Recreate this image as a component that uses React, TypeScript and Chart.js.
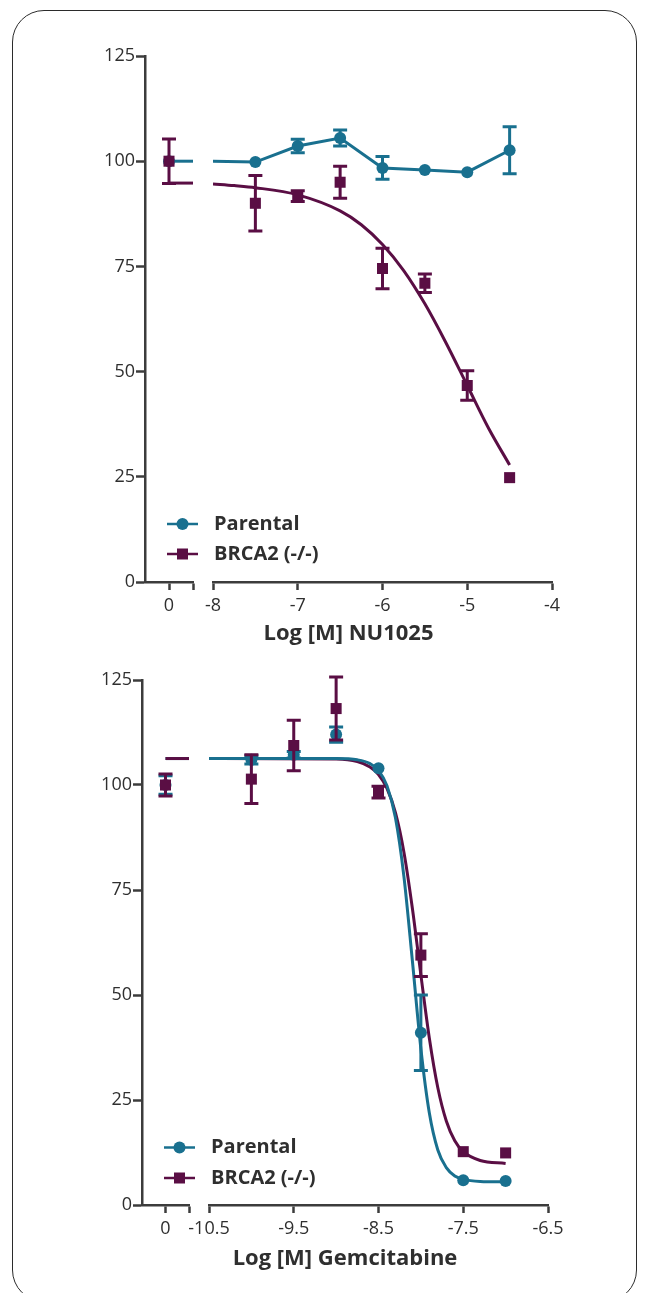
import React, { useEffect, useRef } from "react";
import { Chart, registerables } from "chart.js";

Chart.register(...registerables);

// ---------- colours & fonts ----------
const BLUE = "#19708f";
const MAROON = "#5a0e44";
const INK = "#2f2f2f";
const AXIS = "#3c3c3c";
const FONT = "'Open Sans', 'Noto Sans', sans-serif";

// ---------- shared ----------
const seriesNames = ["Parental", "BRCA2 (-/-)"];
const yTickStep = 25;
const yMin = 0;
const yMax = 125;
const zeroTicks = [0, 1];
const zeroTickLabels = ["0", ""];
const zeroMin = -1;
const zeroMax = 1;

// ---------- Chart 1 : NU1025 ----------
const nuTitle = "Log [M] NU1025";
const nuLogTicks = [-8, -7, -6, -5, -4];
const nuLogX = [-7.5, -7, -6.5, -6, -5.5, -5, -4.5];
const nuParentalZero = 100;
const nuParentalZeroErr = 0;
const nuParental = [99.8, 103.6, 105.5, 98.4, 97.9, 97.4, 102.6];
const nuParentalErr = [0, 1.6, 1.9, 2.7, 0, 0, 5.6];
const nuBrcaZero = 100;
const nuBrcaZeroErr = 5.3;
const nuBrca = [90.0, 91.7, 95.0, 74.5, 71.0, 46.7, 24.8];
const nuBrcaErr = [6.6, 1.3, 3.8, 4.8, 2.2, 3.5, 0];
const nuBrcaFitTop = 94.8;
const nuBrcaFitX = [-8, -7.75, -7.5, -7, -6.5, -6.25, -6, -5.75, -5.5, -5.25, -5, -4.75, -4.5];
const nuBrcaFitY = [94.6, 94.2, 93.7, 92.0, 88.2, 84.9, 80.2, 74.0, 66.1, 56.8, 46.7, 36.6, 27.8];

// ---------- Chart 2 : Gemcitabine ----------
const gemTitle = "Log [M] Gemcitabine";
const gemLogTicks = [-10.5, -9.5, -8.5, -7.5, -6.5];
const gemLogX = [-10, -9.5, -9, -8.5, -8, -7.5, -7];
const gemParentalZero = 100;
const gemParentalZeroErr = 2.2;
const gemParental = [106.0, 107.2, 112.0, 104.0, 41.0, 5.9, 5.7];
const gemParentalErr = [1.0, 0.8, 1.8, 0, 9.0, 0, 0];
const gemBrcaZero = 100;
const gemBrcaZeroErr = 2.6;
const gemBrca = [101.4, 109.4, 118.2, 98.3, 59.5, 12.7, 12.4];
const gemBrcaErr = [5.8, 6.0, 7.5, 1.4, 5.1, 0, 0];
const gemFitTop = 106.3;
const gemFitX = [-10.5, -9, -8.75, -8.6, -8.5, -8.4, -8.3, -8.2, -8.1, -8.0, -7.9, -7.8, -7.7, -7.6, -7.5, -7.3, -7.0];
const gemParentalFitY = [106.3, 106.3, 106.0, 105.1, 103.5, 99.8, 92.2, 78.2, 58.1, 37.2, 21.9, 13.1, 8.9, 6.9, 6.1, 5.6, 5.5];
const gemBrcaFitY = [106.3, 106.2, 105.6, 104.3, 102.5, 99.2, 93.4, 84.0, 70.6, 54.8, 39.7, 27.9, 20.0, 15.3, 12.7, 10.6, 9.9];

// ---------- helpers ----------
const pts = (xs: number[], ys: number[]) => xs.map((x, i) => ({ x, y: ys[i] }));

const errorBarPlugin = {
  id: "errorBars",
  beforeDatasetDraw(chart: any, args: any) {
    const ds = chart.data.datasets[args.index];
    const errs: number[] | undefined = ds.errorBars;
    if (!errs) return;
    const meta = args.meta;
    const yScale = chart.scales[meta.yAxisID];
    const ctx = chart.ctx;
    const cap = 7;
    ctx.save();
    ctx.strokeStyle = ds.borderColor;
    ctx.lineWidth = 3;
    meta.data.forEach((el: any, i: number) => {
      const e = errs[i];
      if (!e) return;
      const v = ds.data[i].y;
      const x = el.x;
      const yt = yScale.getPixelForValue(v + e);
      const yb = yScale.getPixelForValue(v - e);
      ctx.beginPath();
      ctx.moveTo(x, yt);
      ctx.lineTo(x, yb);
      ctx.moveTo(x - cap, yt);
      ctx.lineTo(x + cap, yt);
      ctx.moveTo(x - cap, yb);
      ctx.lineTo(x + cap, yb);
      ctx.stroke();
    });
    ctx.restore();
  },
};

const inlineLegendPlugin = {
  id: "inlineLegend",
  afterDatasetsDraw(chart: any, _args: any, opts: any) {
    const { ctx, chartArea } = chart;
    const items = opts.items || [];
    items.forEach((item: any, i: number) => {
      const y = chartArea.bottom - opts.bottom - (items.length - 1 - i) * opts.rowGap;
      const x0 = chartArea.left + opts.left;
      const xm = x0 + opts.lineLen / 2;
      ctx.save();
      ctx.strokeStyle = item.color;
      ctx.fillStyle = item.color;
      ctx.lineWidth = 2.5;
      ctx.beginPath();
      ctx.moveTo(x0, y);
      ctx.lineTo(x0 + opts.lineLen, y);
      ctx.stroke();
      if (item.style === "rect") {
        ctx.fillRect(xm - 5.5, y - 5.5, 11, 11);
      } else {
        ctx.beginPath();
        ctx.arc(xm, y, 6, 0, Math.PI * 2);
        ctx.fill();
      }
      ctx.fillStyle = INK;
      ctx.font = `bold 20px ${FONT}`;
      ctx.textBaseline = "middle";
      ctx.textAlign = "left";
      ctx.fillText(item.label, x0 + opts.lineLen + opts.textGap, y);
      ctx.restore();
    });
  },
};

type Layout = {
  yWidth: number;
  padTop: number;
  padRight: number;
  padBottom: number;
  w0: number;
  wGap: number;
  wLog: number;
  titlePadTop: number;
  legendBottom: number;
  legendGap: number;
};

function makeScales(logTicks: number[], L: Layout) {
  const tickFont = { family: FONT, size: 18, weight: "500" };
  const xBase: any = {
    type: "linear",
    position: "bottom",
    stack: "xbreak",
    offset: false,
    border: { display: true, color: AXIS, width: 2.5 },
    grid: { display: true, drawOnChartArea: false, drawTicks: true, tickLength: 8, tickColor: AXIS, tickWidth: 2.5 },
    afterFit: (s: any) => {
      s.height = 36;
    },
  };
  return {
    x0: {
      ...xBase,
      min: zeroMin,
      max: zeroMax,
      stackWeight: L.w0,
      afterBuildTicks: (s: any) => {
        s.ticks = zeroTicks.map((v) => ({ value: v }));
      },
      ticks: {
        color: INK,
        font: tickFont,
        padding: 5,
        autoSkip: false,
        maxRotation: 0,
        callback: (v: any) => zeroTickLabels[zeroTicks.indexOf(Number(v))] ?? "",
      },
    },
    xgap: {
      ...xBase,
      min: 0,
      max: 1,
      stackWeight: L.wGap,
      border: { display: false },
      grid: { display: false },
      ticks: { display: false },
    },
    xlog: {
      ...xBase,
      min: logTicks[0],
      max: logTicks[logTicks.length - 1],
      stackWeight: L.wLog,
      afterBuildTicks: (s: any) => {
        s.ticks = logTicks.map((v) => ({ value: v }));
      },
      ticks: {
        color: INK,
        font: tickFont,
        padding: 5,
        autoSkip: false,
        maxRotation: 0,
        callback: (v: any) => String(v),
      },
    },
    y: {
      type: "linear",
      position: "left",
      min: yMin,
      max: yMax,
      border: { display: true, color: AXIS, width: 2.5 },
      grid: { display: true, drawOnChartArea: false, drawTicks: true, tickLength: 9, tickColor: AXIS, tickWidth: 2.5 },
      ticks: { stepSize: yTickStep, color: INK, font: tickFont, padding: 1 },
      afterFit: (s: any) => {
        s.width = L.yWidth;
      },
    },
  };
}

function makeOptions(title: string, logTicks: number[], L: Layout) {
  return {
    responsive: true,
    maintainAspectRatio: false,
    animation: false,
    events: [],
    layout: { padding: { left: 0, top: L.padTop, right: L.padRight, bottom: L.padBottom } },
    scales: makeScales(logTicks, L),
    plugins: {
      legend: { display: false },
      tooltip: { enabled: false },
      title: {
        display: true,
        text: title,
        position: "bottom",
        fullSize: false,
        color: INK,
        font: { family: FONT, size: 22, weight: "bold" },
        padding: { top: L.titlePadTop, bottom: 0 },
      },
      inlineLegend: {
        items: [
          { label: seriesNames[0], color: BLUE, style: "circle" },
          { label: seriesNames[1], color: MAROON, style: "rect" },
        ],
        left: 22,
        lineLen: 31,
        textGap: 16,
        rowGap: L.legendGap,
        bottom: L.legendBottom,
      },
    },
  };
}

const pointDs = (color: string, style: string, radius: number) => ({
  borderColor: color,
  backgroundColor: color,
  pointBackgroundColor: color,
  pointBorderColor: color,
  pointBorderWidth: 0,
  pointStyle: style,
  pointRadius: radius,
  borderWidth: 3,
});

const curveDs = (color: string) => ({
  borderColor: color,
  backgroundColor: color,
  borderWidth: 3,
  pointRadius: 0,
  showLine: true,
  cubicInterpolationMode: "monotone",
});

function nuConfig(): any {
  const L: Layout = {
    yWidth: 105,
    padTop: 26,
    padRight: 48,
    padBottom: 2.6,
    w0: 48,
    wGap: 20,
    wLog: 339,
    titlePadTop: 3,
    legendBottom: 28,
    legendGap: 30,
  };
  const datasets = [
    { ...pointDs(MAROON, "rect", 7.8), xAxisID: "xlog", yAxisID: "y", showLine: false, data: pts(nuLogX, nuBrca), errorBars: nuBrcaErr },
    { ...pointDs(MAROON, "rect", 7.8), xAxisID: "x0", yAxisID: "y", showLine: false, data: [{ x: zeroTicks[0], y: nuBrcaZero }], errorBars: [nuBrcaZeroErr] },
    {
      ...pointDs(BLUE, "circle", 6),
      xAxisID: "xlog",
      yAxisID: "y",
      showLine: true,
      data: [{ x: nuLogTicks[0], y: nuParentalZero }, ...pts(nuLogX, nuParental)],
      pointRadius: [0, ...nuLogX.map(() => 6)],
      errorBars: [0, ...nuParentalErr],
    },
    {
      ...pointDs(BLUE, "circle", 6),
      xAxisID: "x0",
      yAxisID: "y",
      showLine: true,
      data: [{ x: zeroTicks[0], y: nuParentalZero }, { x: zeroMax, y: nuParentalZero }],
      pointRadius: [6, 0],
      errorBars: [nuParentalZeroErr, 0],
    },
    { ...curveDs(MAROON), xAxisID: "xlog", yAxisID: "y", data: pts(nuBrcaFitX, nuBrcaFitY) },
    { ...curveDs(MAROON), xAxisID: "x0", yAxisID: "y", data: [{ x: zeroTicks[0], y: nuBrcaFitTop }, { x: zeroMax, y: nuBrcaFitTop }] },
  ];
  return {
    type: "line",
    data: { datasets },
    options: makeOptions(nuTitle, nuLogTicks, L),
    plugins: [errorBarPlugin, inlineLegendPlugin],
  };
}

function gemConfig(): any {
  const L: Layout = {
    yWidth: 102,
    padTop: 25,
    padRight: 52,
    padBottom: 12.6,
    w0: 47,
    wGap: 20,
    wLog: 339,
    titlePadTop: 5,
    legendBottom: 27,
    legendGap: 30.5,
  };
  const datasets = [
    { ...pointDs(MAROON, "rect", 7.8), xAxisID: "xlog", yAxisID: "y", showLine: false, data: pts(gemLogX, gemBrca), errorBars: gemBrcaErr },
    { ...pointDs(MAROON, "rect", 7.8), xAxisID: "x0", yAxisID: "y", showLine: false, data: [{ x: zeroTicks[0], y: gemBrcaZero }], errorBars: [gemBrcaZeroErr] },
    { ...pointDs(BLUE, "circle", 6), xAxisID: "xlog", yAxisID: "y", showLine: false, data: pts(gemLogX, gemParental), errorBars: gemParentalErr },
    { ...pointDs(BLUE, "circle", 6), xAxisID: "x0", yAxisID: "y", showLine: false, data: [{ x: zeroTicks[0], y: gemParentalZero }], errorBars: [gemParentalZeroErr] },
    { ...curveDs(MAROON), xAxisID: "x0", yAxisID: "y", data: [{ x: zeroTicks[0], y: gemFitTop }, { x: zeroMax, y: gemFitTop }] },
    { ...curveDs(BLUE), xAxisID: "xlog", yAxisID: "y", data: pts(gemFitX, gemParentalFitY) },
    { ...curveDs(BLUE), xAxisID: "x0", yAxisID: "y", data: [{ x: zeroTicks[0], y: gemFitTop }, { x: zeroMax, y: gemFitTop }] },
    { ...curveDs(MAROON), xAxisID: "xlog", yAxisID: "y", data: pts(gemFitX, gemBrcaFitY) },
  ];
  return {
    type: "line",
    data: { datasets },
    options: makeOptions(gemTitle, gemLogTicks, L),
    plugins: [errorBarPlugin, inlineLegendPlugin],
  };
}

function ChartBox({ make, style }: { make: () => any; style: React.CSSProperties }) {
  const ref = useRef<HTMLCanvasElement>(null);
  useEffect(() => {
    if (!ref.current) return;
    const chart = new Chart(ref.current, make());
    return () => chart.destroy();
  }, [make]);
  return (
    <div style={{ position: "absolute", ...style }}>
      <canvas ref={ref} />
    </div>
  );
}

export default function App() {
  return (
    <div style={{ position: "relative", width: 633, height: 1277, fontFamily: FONT }}>
      <div
        style={{
          position: "fixed",
          left: 12,
          top: 10,
          width: 625,
          height: 1292,
          boxSizing: "border-box",
          border: "1.5px solid #2b2b2b",
          borderRadius: 32,
          pointerEvents: "none",
        }}
      />
      <ChartBox make={nuConfig} style={{ left: 32, top: 22, width: 560, height: 620 }} />
      <ChartBox make={gemConfig} style={{ left: 32, top: 647, width: 560, height: 630 }} />
    </div>
  );
}
